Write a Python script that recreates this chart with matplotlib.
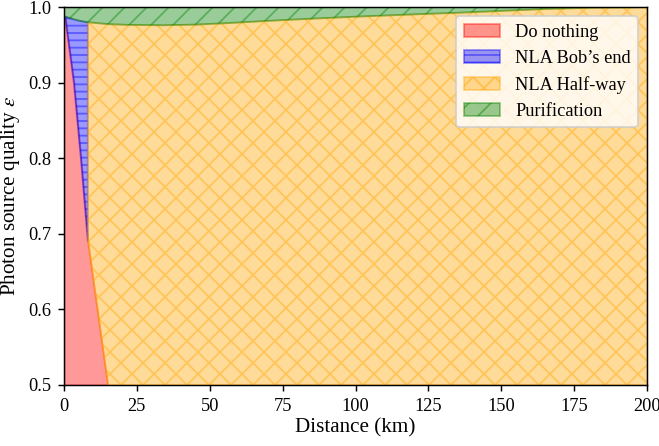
import numpy as np
import matplotlib
matplotlib.use("Agg")
import matplotlib.pyplot as plt

# distance grid (km) and lower edge of the purification region
dist = [0, 0.4, 3.4, 5.8, 8.2, 15, 22, 34, 45, 56, 68, 79, 90, 101, 113, 124, 135, 150, 165, 180, 200]
purif_edge = [0.988, 0.9875, 0.9838, 0.9815, 0.980, 0.9775, 0.9765, 0.976, 0.9768, 0.9788, 0.9814,
              0.9836, 0.9856, 0.9875, 0.9893, 0.991, 0.9925, 0.995, 0.9975, 0.9992, 1.0]

# upper edge of the "do nothing" region
nothing_dist = [0, 0.4, 3.4, 5.8, 8.2, 15]
nothing_eps = [0.988, 0.9875, 0.9, 0.8, 0.69, 0.5]

labels = ["Do nothing", "NLA Bob\u2019s end", "NLA Half-way", "Purification"]
xticks = [0, 25, 50, 75, 100, 125, 150, 175, 200]
yticks = [0.5, 0.6, 0.7, 0.8, 0.9, 1.0]

plt.rcParams['font.family'] = ['Liberation Serif', 'DejaVu Serif']
plt.rcParams['mathtext.fontset'] = 'stix'
plt.rcParams['font.size'] = 10

fig = plt.figure(figsize=(659 / 132, 446 / 132), dpi=132)
ax = fig.add_axes([0.097, 0.137, 0.885, 0.847])

d = np.array(dist)
p = np.array(purif_edge)

# do nothing
ax.fill_between(nothing_dist, 0.5, nothing_eps, color='red', alpha=0.4, label=labels[0])
# NLA at Bob's end: between red edge and x=8.2
ax.fill_between(d[1:5], nothing_eps[1:5], p[1:5], color='blue', alpha=0.4, hatch='---', label=labels[1])
# NLA half-way
low = np.interp(d[4:], nothing_dist, nothing_eps)
ax.fill_between(d[4:], low, p[4:], color='orange', alpha=0.4, hatch='xx', label=labels[2])
# purification
ax.fill_between(d, p, 1.0, color='green', alpha=0.4, hatch='//', label=labels[3])

ax.set_xlim(0, 200)
ax.set_ylim(0.5, 1.0)
ax.set_xticks(xticks)
ax.set_yticks(yticks)
ax.set_xlabel("Distance (km)", fontsize=11.5, labelpad=2)
ax.set_ylabel(r"Photon source quality $\epsilon$", fontsize=11.5, labelpad=3)
ax.legend(loc='upper right', fontsize=10)

fig.savefig("out.png", dpi=132)
